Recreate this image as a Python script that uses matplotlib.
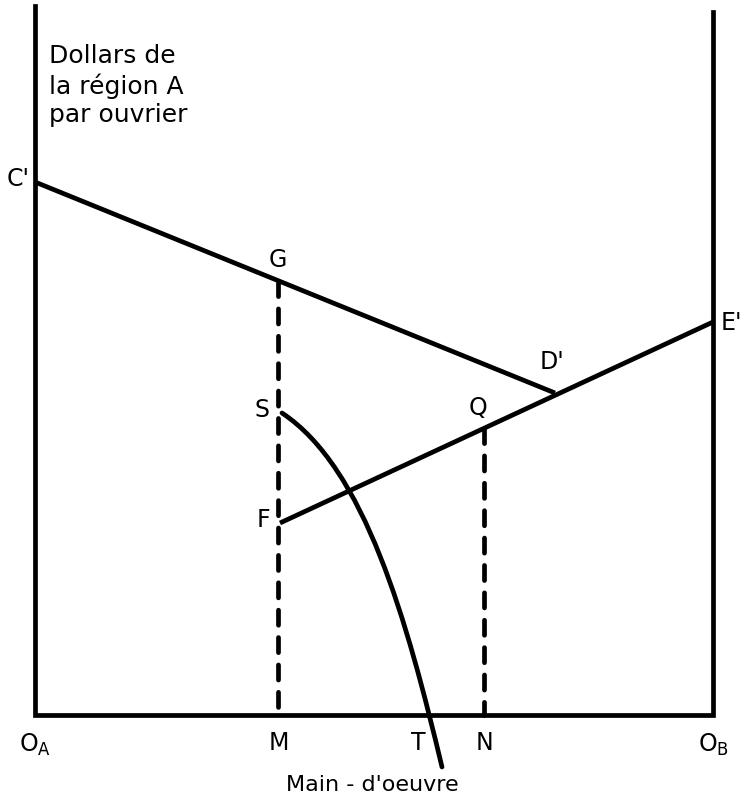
import numpy as np
import matplotlib
matplotlib.use('Agg')
import matplotlib.pyplot as plt
from matplotlib.path import Path
from matplotlib.patches import PathPatch

# Koordinaten: Ursprung O_A, Einheit = Pixel im Original
breite = 678          # O_A -> O_B
hoehe_links = 709
hoehe_rechts = 703

# Gerade C'D' (Grenzprodukt Region A)
c_punkt = (0, 533)
d_punkt = (520, 322)
# Gerade F E' (Region B)
f_punkt = (245, 192)
e_punkt = (678, 393)

m_x = 243
n_x = 449

# Kurve S -> unter T: Bezier-Stuetzpunkte (Start, 2 Kontrollpunkte, Ende)
kurve_x = [247, 330, 372, 407]
kurve_y = [302, 247, 94, -52]

LW = 3.4


def auf_gerade(p1, p2, x):
    return p1[1] + (p2[1] - p1[1]) * (x - p1[0]) / (p2[0] - p1[0])


fig = plt.figure(figsize=(7.46, 7.99), dpi=100)
ax = fig.add_axes([0, 0, 1, 1])
ax.set_xlim(-35, 711)
ax.set_ylim(-84, 715)
ax.axis('off')

# Rahmen
ax.plot([0, 0, breite, breite], [hoehe_links, 0, 0, hoehe_rechts],
        color='black', lw=LW, solid_joinstyle='miter')

ax.plot([c_punkt[0], d_punkt[0]], [c_punkt[1], d_punkt[1]],
        color='black', lw=LW, solid_capstyle='butt')
ax.plot([f_punkt[0], e_punkt[0]], [f_punkt[1], e_punkt[1]],
        color='black', lw=LW, solid_capstyle='butt')

g_y = auf_gerade(c_punkt, d_punkt, m_x)
q_y = auf_gerade(f_punkt, e_punkt, n_x)

for x, y in [(m_x, g_y), (n_x, q_y)]:
    ax.plot([x, x], [y, 0], color='black', lw=LW,
            dashes=(3.2, 2.6), dash_capstyle='round')

pfad = Path(list(zip(kurve_x, kurve_y)),
            [Path.MOVETO, Path.CURVE4, Path.CURVE4, Path.CURVE4])
ax.add_patch(PathPatch(pfad, facecolor='none', edgecolor='black',
                       lw=LW, capstyle='round'))

fs = 17
txt = dict(fontsize=fs, ha='center', va='center', family='DejaVu Sans')
ax.text(-17, 536, "C'", **txt)
ax.text(m_x, 455, 'G', **txt)
ax.text(517, 353, "D'", **txt)
ax.text(686, 392, "E'", fontsize=fs, ha='left', va='center')
ax.text(227, 305, 'S', **txt)
ax.text(443, 307, 'Q', **txt)
ax.text(228, 195, 'F', **txt)

ax.text(0, -30, r'O$_{\mathrm{A}}$', **txt)
ax.text(m_x + 1, -28, 'M', **txt)
ax.text(383, -28, 'T', **txt)
ax.text(n_x, -28, 'N', **txt)
ax.text(breite, -30, r'O$_{\mathrm{B}}$', **txt)
ax.text(337, -70, "Main - d'oeuvre", fontsize=16, ha='center', va='center')

ax.text(14, 671, 'Dollars de\nla région A\npar ouvrier',
        fontsize=18, ha='left', va='top', linespacing=1.25)

fig.savefig('out.png', dpi=100)
